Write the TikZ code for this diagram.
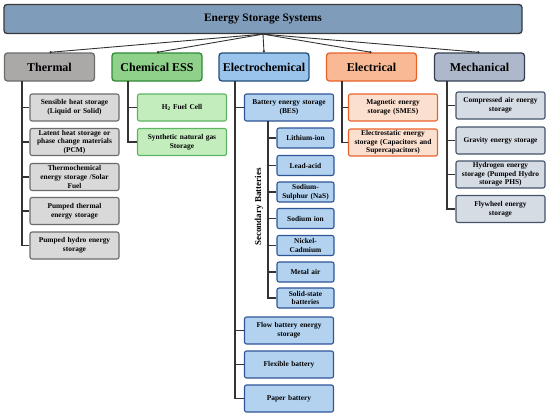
\documentclass[tikz,border=0pt]{standalone}
\usepackage{fontspec}
\setmainfont{Liberation Serif}
\usetikzlibrary{arrows.meta}

\definecolor{essfill}{HTML}{7F9CBA}
\definecolor{essline}{HTML}{3A3A3A}
\definecolor{thfill}{HTML}{ABA8A8}
\definecolor{thline}{HTML}{6B6B6B}
\definecolor{thleaf}{HTML}{D9D9D9}
\definecolor{chfill}{HTML}{8FD08A}
\definecolor{chline}{HTML}{2E8B34}
\definecolor{chleaf}{HTML}{C4EDBE}
\definecolor{chleafline}{HTML}{5DB563}
\definecolor{ecfill}{HTML}{9AC4EC}
\definecolor{ecline}{HTML}{1F4E79}
\definecolor{ecleaf}{HTML}{B3D2F0}
\definecolor{ecleafline}{HTML}{2E5597}
\definecolor{elfill}{HTML}{F8B994}
\definecolor{elline}{HTML}{E8622A}
\definecolor{elleaf}{HTML}{FCE0CF}
\definecolor{mefill}{HTML}{ADB9CA}
\definecolor{meline}{HTML}{333F50}
\definecolor{meleaf}{HTML}{D6DCE4}
\definecolor{meleafline}{HTML}{44546A}

\begin{document}
\begin{tikzpicture}[x=1pt,y=-1pt,>={Circle[length=2.2pt]},
  cat/.style={draw,rounded corners=3pt,line width=1.3pt,minimum width=90pt,minimum height=28pt,inner sep=1pt,font=\bfseries\fontsize{12}{14}\selectfont},
  leaf/.style={draw,rounded corners=2pt,line width=1.1pt,minimum width=89pt,minimum height=27pt,text width=87pt,align=center,inner sep=1pt,font=\bfseries\fontsize{7.4}{8.6}\selectfont},
  subleaf/.style={leaf,minimum width=57pt,minimum height=20pt,text width=55pt},
  link/.style={line width=1.5pt,draw=black!80}]
\useasboundingbox (0,0) rectangle (550,418);

\node[cat,fill=essfill,draw=essline,minimum width=518pt,minimum height=29pt,font=\bfseries\fontsize{11.4}{13}\selectfont] (ess) at (263,19) {Energy Storage Systems};

\node[cat,fill=thfill,draw=thline] (th) at (49.5,67) {Thermal};
\node[cat,fill=chfill,draw=chline] (ch) at (157,67) {Chemical ESS};
\node[cat,fill=ecfill,draw=ecline] (ec) at (264,67) {Electrochemical};
\node[cat,fill=elfill,draw=elline] (el) at (371.5,67) {Electrical};
\node[cat,fill=mefill,draw=meline] (me) at (479.5,67) {Mechanical};

\foreach \c in {th,ch,ec,el,me}
  \draw[line width=0.9pt,draw=black!80,->] (ess.south) -- (\c.north);

\node[leaf,fill=thleaf,draw=thline] (th1) at (74.5,107.5) {Sensible heat storage\\(Liquid or Solid)};
\node[leaf,fill=thleaf,draw=thline] (th2) at (74.5,142) {Latent heat storage or\\phase change materials\\(PCM)};
\node[leaf,fill=thleaf,draw=thline] (th3) at (74.5,177) {Thermochemical\\energy storage /Solar\\Fuel};
\node[leaf,fill=thleaf,draw=thline] (th4) at (74.5,211) {Pumped thermal\\energy storage};
\node[leaf,fill=thleaf,draw=thline] (th5) at (74.5,245.5) {Pumped hydro energy\\storage};

\node[leaf,fill=chleaf,draw=chleafline] (ch1) at (182,107.5) {H\textsubscript{2} Fuel Cell};
\node[leaf,fill=chleaf,draw=chleafline] (ch2) at (182,142) {Synthetic natural gas\\Storage};

\node[leaf,fill=ecleaf,draw=ecleafline] (bes) at (289,107.5) {Battery energy storage\\(BES)};
\node[subleaf,fill=ecleaf,draw=ecleafline] (sb1) at (305.5,138) {Lithium-ion};
\node[subleaf,fill=ecleaf,draw=ecleafline] (sb2) at (305.5,165.5) {Lead-acid};
\node[subleaf,fill=ecleaf,draw=ecleafline] (sb3) at (305.5,192) {Sodium-\\Sulphur (NaS)};
\node[subleaf,fill=ecleaf,draw=ecleafline] (sb4) at (305.5,218.5) {Sodium ion};
\node[subleaf,fill=ecleaf,draw=ecleafline] (sb5) at (305.5,245.5) {Nickel-\\Cadmium};
\node[subleaf,fill=ecleaf,draw=ecleafline] (sb6) at (305.5,272) {Metal air};
\node[subleaf,fill=ecleaf,draw=ecleafline] (sb7) at (305.5,298) {Solid-state\\batteries};
\node[rotate=90,font=\bfseries\fontsize{9}{10}\selectfont] (secbat) at (259,207) {Secondary Batteries};
\node[leaf,fill=ecleaf,draw=ecleafline] (flow) at (289,330.5) {Flow battery energy\\storage};
\node[leaf,fill=ecleaf,draw=ecleafline] (flex) at (289,364.5) {Flexible battery};
\node[leaf,fill=ecleaf,draw=ecleafline] (paper) at (289,398.5) {Paper battery};

\node[leaf,fill=elleaf,draw=elline] (el1) at (393,107.5) {Magnetic energy\\storage (SMES)};
\node[leaf,fill=elleaf,draw=elline] (el2) at (393,142.5) {Electrostatic energy\\storage (Capacitors and\\Supercapacitors)};

\node[leaf,fill=meleaf,draw=meleafline] (me1) at (500.5,105.5) {Compressed air energy\\storage};
\node[leaf,fill=meleaf,draw=meleafline] (me2) at (500.5,140.5) {Gravity energy storage};
\node[leaf,fill=meleaf,draw=meleafline] (me3) at (500.5,174.5) {Hydrogen energy\\storage (Pumped Hydro\\storage PHS)};
\node[leaf,fill=meleaf,draw=meleafline] (me4) at (500.5,209) {Flywheel energy\\storage};

\coordinate (thT) at (22,81);
\coordinate (chT) at (128,81);
\coordinate (ecT) at (235,81);
\coordinate (besT) at (268,121);
\coordinate (elT) at (342,81);
\coordinate (meT) at (447,81);

\draw[link] (thT) |- (th5);
\foreach \n in {1,...,4} \draw[link] (thT |- th\n) -- (th\n);
\draw[link] (chT) |- (ch2);
\draw[link] (chT |- ch1) -- (ch1);
\draw[link] (ecT) |- (paper);
\foreach \n in {bes,flow,flex} \draw[link] (ecT |- \n) -- (\n);
\draw[link] (besT) |- (sb7);
\foreach \n in {1,...,6} \draw[link] (besT |- sb\n) -- (sb\n);
\draw[link] (elT) |- (el2);
\draw[link] (elT |- el1) -- (el1);
\draw[link] (meT) |- (me4);
\foreach \n in {1,...,3} \draw[link] (meT |- me\n) -- (me\n);
\end{tikzpicture}
\end{document}
